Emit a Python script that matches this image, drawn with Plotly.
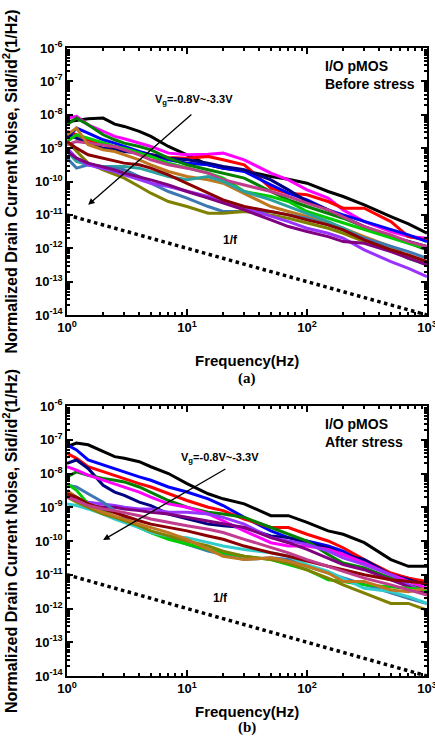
import numpy as np
import plotly.graph_objects as go

freq = [1, 1.2, 1.5, 2, 2.5, 3, 4, 5, 7, 10, 15, 20, 30, 50, 70, 100, 150, 200, 300, 500, 700, 1000]

# exponents (log10 of Sid/id^2)
before = {
    "#000000": [-8.21, -8.16, -8.12, -8.10, -8.28, -8.35, -8.50, -8.65, -8.95, -9.20, -9.50, -9.60, -9.68, -9.85, -9.93, -10.05, -10.30, -10.45, -10.70, -11.05, -11.27, -11.55],
    "#FF00FF": [-8.10, -8.05, -8.30, -8.50, -8.65, -8.72, -8.85, -8.95, -9.15, -9.20, -9.18, -9.15, -9.35, -9.75, -9.95, -10.25, -10.50, -10.85, -11.20, -11.50, -11.65, -11.70],
    "#FF0000": [-8.50, -8.60, -8.75, -8.90, -9.00, -9.05, -9.15, -9.20, -9.28, -9.30, -9.25, -9.35, -9.50, -10.20, -10.35, -10.40, -10.60, -10.80, -10.80, -11.20, -11.65, -11.75],
    "#0000FF": [-8.70, -8.40, -8.55, -8.75, -8.85, -8.95, -9.10, -9.20, -9.35, -9.45, -9.50, -9.60, -9.70, -10.10, -10.35, -10.55, -10.85, -11.00, -11.20, -11.45, -11.60, -11.80],
    "#000080": [-8.60, -8.70, -8.85, -9.00, -9.05, -9.10, -9.15, -9.20, -9.30, -9.35, -9.45, -9.55, -9.65, -9.95, -10.25, -10.60, -10.85, -11.05, -11.35, -11.65, -11.80, -11.95],
    "#008000": [-8.30, -8.10, -8.30, -8.60, -8.75, -8.85, -8.95, -9.05, -9.30, -9.50, -9.65, -9.75, -9.90, -10.30, -10.55, -10.75, -10.95, -11.10, -11.35, -11.65, -11.85, -12.05],
    "#00CC00": [-8.80, -8.60, -8.70, -8.85, -8.95, -9.00, -9.15, -9.25, -9.45, -9.60, -9.75, -9.90, -10.30, -10.45, -10.60, -10.90, -11.10, -11.25, -11.45, -11.70, -11.85, -12.00],
    "#C03C8C": [-8.90, -8.80, -8.85, -8.90, -8.95, -9.05, -9.20, -9.35, -9.50, -9.60, -9.75, -9.95, -10.10, -10.30, -10.45, -10.65, -10.85, -11.05, -11.35, -11.60, -11.80, -11.95],
    "#C07820": [-8.60, -8.40, -8.90, -9.05, -9.10, -9.20, -9.35, -9.50, -9.70, -9.85, -9.95, -10.05, -10.35, -10.75, -10.90, -11.05, -11.25, -11.40, -11.65, -11.95, -12.25, -12.50],
    "#2AA0A0": [-9.10, -9.40, -9.50, -9.55, -9.55, -9.55, -9.60, -9.70, -9.85, -9.95, -9.85, -10.00, -10.30, -10.55, -10.75, -10.95, -11.20, -11.40, -11.70, -12.05, -12.30, -12.50],
    "#3C78B4": [-9.30, -9.60, -9.50, -9.55, -9.60, -9.65, -9.85, -10.05, -10.30, -10.50, -10.75, -10.90, -10.90, -10.90, -11.00, -11.10, -11.30, -11.45, -11.70, -11.95, -12.10, -12.30],
    "#808000": [-8.80, -9.10, -9.45, -9.65, -9.80, -9.90, -10.15, -10.35, -10.60, -10.75, -10.95, -10.95, -10.90, -11.00, -11.10, -11.25, -11.40, -11.55, -11.80, -12.05, -12.30, -12.45],
    "#9933FF": [-9.00, -9.30, -9.50, -9.60, -9.70, -9.80, -9.95, -10.05, -10.15, -10.30, -10.45, -10.60, -10.80, -11.05, -11.20, -11.40, -11.55, -11.70, -12.05, -12.40, -12.60, -12.85],
    "#800080": [-9.10, -9.30, -9.45, -9.55, -9.65, -9.75, -9.85, -9.95, -10.10, -10.30, -10.50, -10.65, -10.85, -11.15, -11.35, -11.50, -11.65, -11.80, -11.85, -12.10, -12.30, -12.50],
    "#8B0000": [-8.80, -9.00, -9.20, -9.30, -9.40, -9.45, -9.50, -9.60, -9.80, -10.05, -10.35, -10.55, -10.75, -10.90, -11.00, -11.15, -11.30, -11.45, -11.75, -12.05, -12.20, -12.40],
}

after = {
    "#000000": [-7.20, -7.10, -7.15, -7.35, -7.50, -7.55, -7.65, -7.80, -8.00, -8.30, -8.60, -8.75, -8.90, -9.25, -9.25, -9.45, -9.70, -9.80, -10.05, -10.55, -10.75, -10.75],
    "#0000FF": [-7.15, -7.30, -7.60, -7.75, -7.85, -7.95, -8.10, -8.20, -8.40, -8.55, -8.75, -8.95, -9.30, -9.70, -9.90, -10.00, -10.15, -10.30, -10.60, -11.00, -11.10, -11.25],
    "#FF0000": [-7.40, -7.55, -7.80, -7.95, -8.05, -8.15, -8.30, -8.40, -8.60, -8.80, -9.00, -9.10, -9.35, -9.60, -9.60, -9.80, -10.00, -10.20, -10.55, -10.95, -11.10, -11.20],
    "#000080": [-7.70, -7.60, -7.85, -8.35, -8.55, -8.65, -8.85, -8.95, -9.20, -9.35, -9.50, -9.55, -9.60, -9.85, -9.90, -10.05, -10.20, -10.40, -10.55, -11.00, -11.15, -11.30],
    "#008000": [-8.10, -7.95, -8.05, -8.15, -8.20, -8.25, -8.40, -8.55, -8.80, -9.00, -9.15, -9.20, -9.30, -9.60, -9.80, -10.00, -10.40, -10.65, -10.80, -11.10, -11.30, -11.45],
    "#FF00FF": [-7.80, -7.90, -8.05, -8.20, -8.30, -8.40, -8.55, -8.70, -8.90, -9.00, -9.20, -9.40, -9.70, -10.05, -10.15, -10.15, -10.25, -10.40, -10.65, -11.00, -11.20, -11.40],
    "#9933FF": [-8.50, -8.75, -8.85, -8.90, -8.95, -9.00, -9.05, -9.05, -9.15, -9.15, -9.20, -9.30, -9.50, -9.90, -10.00, -10.10, -10.30, -10.50, -10.70, -11.00, -11.30, -11.55],
    "#800080": [-8.60, -8.80, -8.95, -9.00, -9.00, -9.05, -9.10, -9.15, -9.20, -9.30, -9.40, -9.50, -9.60, -9.90, -10.05, -10.25, -10.50, -10.70, -10.85, -11.15, -11.35, -11.60],
    "#3C78B4": [-8.35, -8.40, -8.60, -8.85, -9.10, -9.30, -9.60, -9.75, -9.90, -10.10, -10.30, -10.40, -10.55, -10.50, -10.55, -10.75, -10.95, -11.10, -11.30, -11.55, -11.70, -11.85],
    "#00CC00": [-8.30, -8.50, -8.90, -9.10, -9.30, -9.40, -9.60, -9.75, -9.95, -10.10, -10.25, -10.35, -10.45, -10.55, -10.70, -10.85, -11.15, -11.20, -11.30, -11.35, -11.40, -11.45],
    "#33CCCC": [-8.90, -8.95, -9.05, -9.20, -9.35, -9.45, -9.60, -9.75, -9.85, -9.90, -10.05, -10.15, -10.25, -10.35, -10.45, -10.70, -10.90, -11.10, -11.40, -11.50, -11.65, -11.85],
    "#808000": [-8.70, -8.85, -9.00, -9.20, -9.30, -9.40, -9.55, -9.70, -9.85, -10.00, -10.15, -10.30, -10.45, -10.55, -10.65, -10.85, -11.10, -11.30, -11.55, -11.85, -11.85, -12.05],
    "#C07820": [-8.50, -8.70, -8.95, -9.15, -9.25, -9.35, -9.50, -9.60, -9.75, -9.95, -10.25, -10.45, -10.55, -10.50, -10.60, -10.75, -10.95, -11.20, -11.20, -11.45, -11.50, -11.40],
    "#8B0000": [-8.60, -8.70, -8.90, -9.05, -9.15, -9.25, -9.40, -9.50, -9.60, -9.70, -9.85, -9.95, -10.15, -10.35, -10.45, -10.60, -10.75, -10.85, -11.00, -11.15, -11.20, -11.25],
    "#C03C8C": [-8.70, -8.80, -8.95, -9.05, -9.10, -9.15, -9.25, -9.35, -9.45, -9.55, -9.65, -9.75, -9.95, -10.20, -10.35, -10.55, -10.75, -10.90, -11.10, -11.30, -11.45, -11.60],
}

ref_f = [1, 1000]
ref_v = [1e-11, 1e-14]

y_tick_exp = [-14, -13, -12, -11, -10, -9, -8, -7, -6]
x_tick_exp = [0, 1, 2, 3]

FONT = "Liberation Sans"
YTITLE = "<b>Normalized Drain Current Noise, Sid/id<sup>2</sup>(1/Hz)</b>"
fig = go.Figure()

for ax_i, data in ((1, before), (2, after)):
    xa = "x" if ax_i == 1 else "x2"
    ya = "y" if ax_i == 1 else "y2"
    for col, vals in data.items():
        fig.add_trace(go.Scatter(x=freq, y=[10 ** v for v in vals], mode="lines",
                                 line=dict(color=col, width=3), xaxis=xa, yaxis=ya,
                                 showlegend=False))
    fig.add_trace(go.Scatter(x=ref_f, y=ref_v, mode="lines",
                             line=dict(color="black", width=3.5, dash="dot"),
                             xaxis=xa, yaxis=ya, showlegend=False))

xdom = [67 / 435, 427 / 435]
ydom1 = [1 - 315 / 747, 1 - 48 / 747]
ydom2 = [1 - 676 / 747, 1 - 406 / 747]

def xaxis_cfg():
    return dict(type="log", range=[0, 3], domain=xdom, automargin=False,
                tickmode="array", tickvals=[10 ** e for e in x_tick_exp],
                ticktext=["<b>10<sup>%d</sup></b>" % e for e in x_tick_exp],
                ticklabeloverflow="allow",
                ticks="inside", ticklen=6, tickwidth=1.5, tickcolor="black",
                minor=dict(ticks="inside", ticklen=3, tickcolor="black", dtick="D1"),
                showline=True, linecolor="black", linewidth=1.5, mirror="allticks",
                showgrid=False, zeroline=False,
                tickfont=dict(family=FONT, size=13, color="black"))

def yaxis_cfg(dom):
    return dict(type="log", range=[-14, -6], domain=dom, automargin=False,
                tickmode="array", tickvals=[10 ** e for e in y_tick_exp],
                ticktext=["<b>10<sup>%d</sup></b>" % e for e in y_tick_exp],
                ticklabeloverflow="allow",
                ticks="inside", ticklen=6, tickwidth=1.5, tickcolor="black",
                minor=dict(ticks="inside", ticklen=3, tickcolor="black", dtick="D1"),
                showline=True, linecolor="black", linewidth=1.5, mirror="allticks",
                showgrid=False, zeroline=False,
                title=dict(text=YTITLE, font=dict(family=FONT, size=16, color="black")),
                tickfont=dict(family=FONT, size=13, color="black"))

x1 = xaxis_cfg(); x1["anchor"] = "y"
x2 = xaxis_cfg(); x2["anchor"] = "y2"
y1 = yaxis_cfg(ydom1); y1["anchor"] = "x"
y2 = yaxis_cfg(ydom2); y2["anchor"] = "x2"

ann = []
bold = dict(family=FONT, color="black")
for (xr, yr, cond, xlab_y, sub, lab_y, vg, arr_t, arr_h, fpos) in [
    ("x", "y", "Before stress", 360, "(a)", 378, (np.log10(11.5), -7.55),
     (np.log10(11.2), -7.95), (np.log10(1.5), -10.7), (np.log10(23), -11.75)),
    ("x2", "y2", "After stress", 722, "(b)", 738, (np.log10(19), -7.55),
     (np.log10(21.5), -7.84), (np.log10(2.0), -9.97), (np.log10(19), -11.7)),
]:
    ann.append(dict(x=(xdom[0] + xdom[1]) / 2, y=1 - xlab_y / 747, xref="paper", yref="paper",
                    text="<b>Frequency(Hz)</b>", showarrow=False, font=dict(size=15, **bold)))
    ann.append(dict(x=(xdom[0] + xdom[1]) / 2, y=1 - lab_y / 747, xref="paper", yref="paper",
                    text="<b>%s</b>" % sub, showarrow=False,
                    font=dict(family="Liberation Serif", size=15, color="black")))
    ann.append(dict(x=0.71, y=0.97, xref=xr + " domain", yref=yr + " domain",
                    text="<b>I/O pMOS<br>%s</b>" % cond, showarrow=False, align="left",
                    xanchor="left", yanchor="top", font=dict(size=14, **bold)))
    ann.append(dict(x=vg[0], y=vg[1], xref=xr, yref=yr,
                    text="<b>V<sub>g</sub>=-0.8V~-3.3V</b>", showarrow=False,
                    font=dict(size=11, **bold)))
    ann.append(dict(x=arr_h[0], y=arr_h[1], ax=arr_t[0], ay=arr_t[1],
                    xref=xr, yref=yr, axref=xr, ayref=yr, text="",
                    showarrow=True, arrowhead=2, arrowsize=1, arrowwidth=1.3,
                    arrowcolor="black"))
    ann.append(dict(x=fpos[0], y=fpos[1], xref=xr, yref=yr, text="<b>1/f</b>",
                    showarrow=False, font=dict(size=12, **bold)))

fig.update_layout(width=435, height=747, margin=dict(l=0, r=0, t=0, b=0),
                  paper_bgcolor="white", plot_bgcolor="white",
                  xaxis=x1, yaxis=y1, xaxis2=x2, yaxis2=y2, annotations=ann)

fig.write_html("out.html", config={"displayModeBar": False},
               post_script="document.body.style.margin='0';document.body.style.overflow='hidden';")
